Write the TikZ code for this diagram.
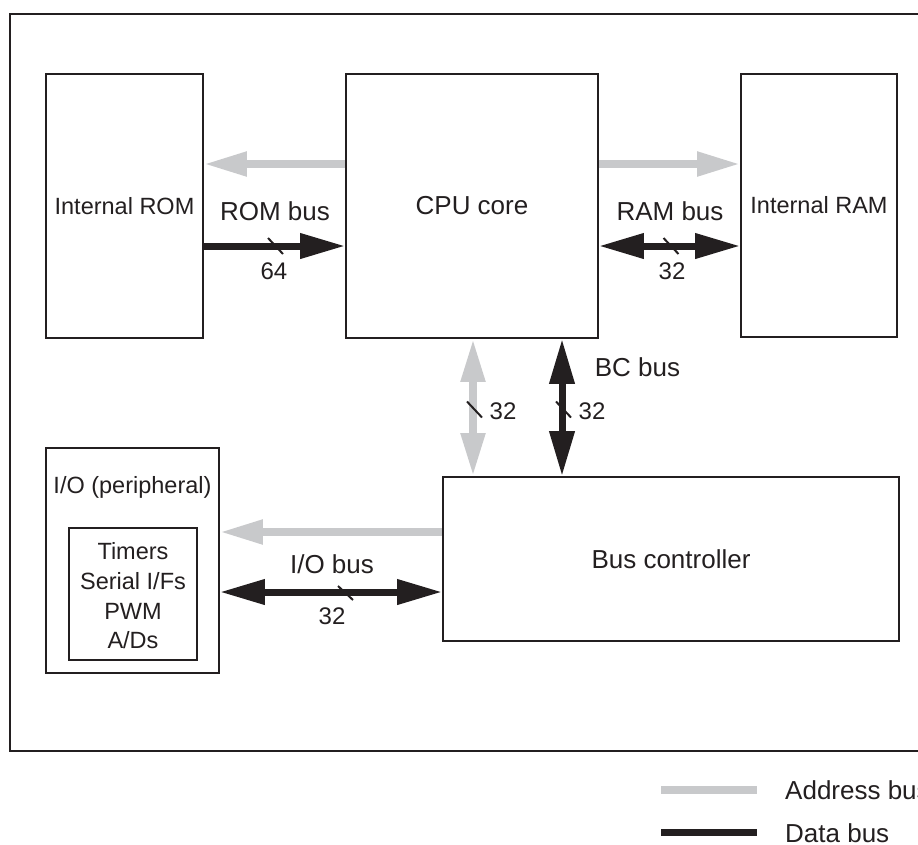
\documentclass[tikz,border=0pt]{standalone}
\usepackage{fontspec}
\setmainfont{Liberation Sans}
\usetikzlibrary{arrows.meta,calc}
\definecolor{busgrey}{RGB}{200,201,203}
\definecolor{ink}{RGB}{35,31,32}
\begin{document}
\begin{tikzpicture}[x=1pt,y=-1pt,
  every node/.style={text=ink},
  box/.style={draw=ink, line width=1.8pt, inner sep=0pt, rectangle},
  big/.style={font=\fontsize{26}{31}\selectfont, inner sep=0pt},
  small/.style={font=\fontsize{23.5}{29.7}\selectfont, inner sep=0pt},
  num/.style={font=\fontsize{24}{29}\selectfont, inner sep=0pt},
  addrbus/.style={draw=busgrey, line width=8pt},
  databus/.style={draw=ink, line width=7pt},
  addrone/.style={addrbus, -{Triangle[length=43pt,width=23pt]}},
  addrtwo/.style={addrbus, {Triangle[length=43pt,width=23pt]}-{Triangle[length=43pt,width=23pt]}},
  dataone/.style={databus, -{Triangle[length=45pt,width=24pt]}},
  datatwo/.style={databus, {Triangle[length=45pt,width=24pt]}-{Triangle[length=45pt,width=24pt]}},
  slashmark/.style={draw=ink, line width=2pt}
]
\useasboundingbox (0,0) rectangle (918,844);

% outer frame
\draw[draw=ink, line width=1.8pt] (930,14) -- (10,14) -- (10,751) -- (930,751);

% boxes
\node[box, minimum width=157pt, minimum height=264pt, small] (rom) at (124.5,206) {Internal ROM};
\node[box, minimum width=252pt, minimum height=264pt, big] (cpu) at (472,206) {CPU core};
\node[box, minimum width=156pt, minimum height=263pt, small] (ram) at (819,205.5) {Internal RAM};
\node[box, minimum width=173pt, minimum height=225pt] (io) at (132.5,560.5) {};
\node[small, anchor=base] (iolbl) at (132.5,493) {I/O (peripheral)};
\node[box, minimum width=128pt, minimum height=132pt] (periph) at (133,594) {};
\node[small, align=center] (periphtext) at (133,596) {Timers\\Serial I/Fs\\PWM\\A/Ds};
\node[box, minimum width=456pt, minimum height=164pt, big] (bc) at (671,559) {Bus controller};

% ROM bus
\draw[addrone] (cpu.west |- 0,164) -- (rom.east |- 0,164);
\draw[dataone] (rom.east |- 0,246) -- (cpu.west |- 0,246);
\draw[slashmark] (275.5,246) ++(-7.5,-8) -- ++(15,16);
\node[big] (rombus) at (275,211.5) {ROM bus};
\node[num] (rom64) at (274,271.5) {64};

% RAM bus
\draw[addrone] (cpu.east |- 0,164) -- (ram.west |- 0,164);
\draw[datatwo] (cpu.east |- 0,246) -- (ram.west |- 0,246);
\draw[slashmark] (671,246) ++(-7.5,-8) -- ++(15,16);
\node[big] (rambus) at (670,211.5) {RAM bus};
\node[num] (ram32) at (672,271.5) {32};

% BC bus (vertical)
\draw[addrtwo] (cpu.south -| 473,0) -- (bc.north -| 473,0);
\draw[datatwo] (cpu.south -| 562,0) -- (bc.north -| 562,0);
\draw[slashmark] (474.5,409.5) ++(-7.5,-8) -- ++(15,16);
\draw[slashmark] (563.5,409.5) ++(-7.5,-8) -- ++(15,16);
\node[num] (vaddr32) at (503,411.5) {32};
\node[num] (vdata32) at (592,411.5) {32};
\node[big] (bcbus) at (637.5,367.5) {BC bus};

% I/O bus
\draw[addrone] (bc.west |- 0,532) -- (io.east |- 0,532);
\draw[datatwo] (io.east |- 0,592) -- (bc.west |- 0,592);
\draw[slashmark] (345.5,593) ++(-7.5,-7) -- ++(15,14);
\node[big] (iobus) at (332,564.5) {I/O bus};
\node[num] (io32) at (332,616.5) {32};

% legend
\coordinate (la1) at (661,790);
\coordinate (la2) at (757,790);
\coordinate (ld1) at (661,832);
\coordinate (ld2) at (757,832);
\draw[addrbus] (la1) -- (la2);
\draw[databus] (ld1) -- (ld2);
\node[big, anchor=west] (laddr) at (785,790) {Address bus};
\node[big, anchor=west] (ldata) at (785,833) {Data bus};
\end{tikzpicture}
\end{document}
